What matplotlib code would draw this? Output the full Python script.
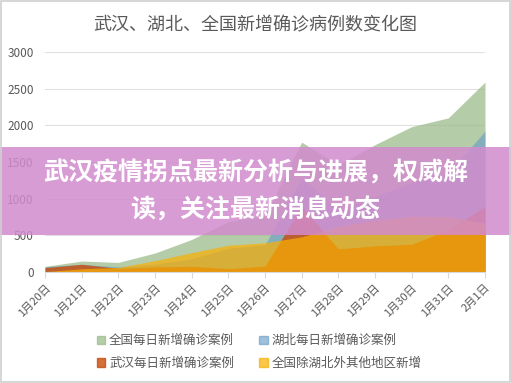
import matplotlib.pyplot as plt
import matplotlib.patches as mpatches
import numpy as np

plt.rcParams['font.family'] = ['Noto Sans CJK SC', 'DejaVu Sans']

# dates on the x axis
dates = ['1月20日', '1月21日', '1月22日', '1月23日', '1月24日', '1月25日', '1月26日',
         '1月27日', '1月28日', '1月29日', '1月30日', '1月31日', '2月1日']

# daily new confirmed cases
quanguo = [77, 149, 131, 259, 444, 688, 769, 1771, 1459, 1737, 1982, 2102, 2590]
hubei = [72, 105, 69, 105, 180, 323, 371, 1291, 840, 1032, 1220, 1347, 1921]
wuhan = [60, 105, 50, 70, 77, 46, 80, 892, 315, 356, 378, 576, 894]
qita = [5, 44, 62, 154, 264, 365, 398, 480, 619, 705, 762, 755, 669]

names = ['全国每日新增确诊案例', '湖北每日新增确诊案例', '武汉每日新增确诊案例', '全国除湖北外其他地区新增']
colors = ['#9dbb8c', '#6a9fc6', '#c84b0a', '#faaf00']
alphas = [0.75, 0.65, 0.8, 0.7]

fig = plt.figure(figsize=(5.11, 3.83), dpi=100)
ax = fig.add_axes([45 / 511, 1 - 272 / 383, 440 / 511, 220 / 383])

x = np.arange(len(dates))
series = [quanguo, hubei, wuhan, qita]
for vals, c, a in zip(series, colors, alphas):
    ax.fill_between(x, 0, vals, color=c, alpha=a, linewidth=0)

ax.set_xlim(0, len(dates) - 1)
ax.set_ylim(0, 3000)
ax.set_yticks(range(0, 3001, 500))
ax.set_xticks(x)
ax.set_xticklabels(dates, rotation=45, ha='right', rotation_mode='anchor')
ax.tick_params(axis='y', length=0, labelsize=8.5, labelcolor='#595959', pad=8)
ax.tick_params(axis='x', length=4, color='#d9d9d9', labelsize=8, labelcolor='#595959')
ax.grid(axis='y', color='#e0e0e0', linewidth=0.8)
ax.set_axisbelow(True)
for s in ['top', 'right', 'left']:
    ax.spines[s].set_visible(False)
ax.spines['bottom'].set_color('#d9d9d9')

fig.text(0.5, 1 - 25 / 383, '武汉、湖北、全国新增确诊病例数变化图', ha='center', va='center',
         fontsize=13, color='#595959')

# legend, filled by column
handles = [mpatches.Patch(color=c, alpha=a) for c, a in zip(colors, alphas)]
order = [0, 2, 1, 3]
fig.legend([handles[i] for i in order], [names[i] for i in order], ncol=2,
           loc='center', bbox_to_anchor=(0.507, 1 - 352 / 383), frameon=False,
           fontsize=9, labelcolor='#595959', handlelength=0.7, handleheight=0.7,
           columnspacing=2.0, handletextpad=0.3, labelspacing=0.75)

# pink banner on top
fig.patches.append(mpatches.Rectangle((0, 1 - 235 / 383), 1, 88 / 383, transform=fig.transFigure,
                                      facecolor='#d28bce', alpha=0.85, edgecolor='none', zorder=10))
fig.text(0.5, 1 - 173 / 383, '武汉疫情拐点最新分析与进展，权威解', ha='center', va='center',
         fontsize=18, color='white', weight='bold', zorder=11)
fig.text(0.5, 1 - 210 / 383, '读，关注最新消息动态', ha='center', va='center',
         fontsize=18, color='white', weight='bold', zorder=11)

# light outer frame
fig.patches.append(mpatches.Rectangle((0.002, 0.003), 0.996, 0.994, transform=fig.transFigure,
                                      facecolor='none', edgecolor='#d0d0d0', linewidth=1.2, zorder=12))

fig.savefig('out.png', dpi=100)
